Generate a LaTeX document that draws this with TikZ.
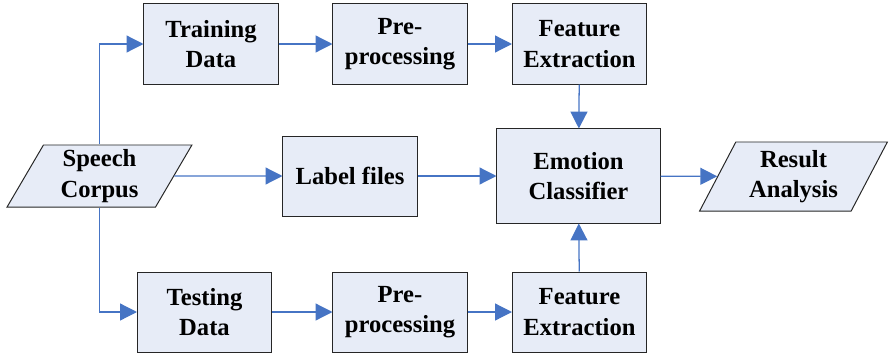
\documentclass[tikz,border=0pt]{standalone}
\usepackage{fontspec}
\setmainfont{Liberation Serif}
\usetikzlibrary{arrows.meta,shapes.geometric,positioning}

\definecolor{boxfill}{RGB}{231,236,247}
\definecolor{linkblue}{RGB}{70,116,196}

\begin{document}
\begin{tikzpicture}[
    x=0.025cm, y=-0.025cm,
    box/.style={draw=black!85, line width=0.7pt, fill=boxfill, minimum width=3.35cm, minimum height=2cm, align=center, inner sep=2pt, font=\fontsize{17.5}{21.5}\selectfont\bfseries},
    data/.style={box, trapezium, trapezium left angle=65, trapezium right angle=115, trapezium stretches=true},
    arr/.style={-{Triangle[length=12pt, width=12pt]}, linkblue, line width=0.9pt}
]
\useasboundingbox (0,0) rectangle (889,356);

\node[data, minimum width=4.625cm, minimum height=1.55cm] (corpus) at (99.5,176) {Speech\\Corpus};
\node[box] (train) at (211,44) {Training\\Data};
\node[box] (prep1) at (400,44) {Pre-\\processing};
\node[box] (feat1) at (579.5,44) {Feature\\Extraction};
\node[box] (label) at (350,176) {Label files};
\node[box, minimum width=4.075cm, minimum height=2.35cm] (emo) at (578.5,176) {Emotion\\Classifier};
\node[data, trapezium left angle=63, trapezium right angle=117, minimum width=4.7cm, minimum height=1.725cm] (result) at (793.5,176.5) {Result\\Analysis};
\node[box] (test) at (204.5,312) {Testing\\Data};
\node[box] (prep2) at (400,312) {Pre-\\processing};
\node[box] (feat2) at (579.5,312) {Feature\\Extraction};

\draw[arr] (corpus.north) |- (train);
\draw[arr] (corpus.south) |- (test);
\draw[arr] (corpus) -- (label);
\draw[arr] (train) -- (prep1);
\draw[arr] (prep1) -- (feat1);
\draw[arr] (test) -- (prep2);
\draw[arr] (prep2) -- (feat2);
\draw[arr] (label) -- (emo);
\draw[arr] (feat1) -- (emo);
\draw[arr] (feat2) -- (emo);
\draw[arr] (emo) -- (result);
\end{tikzpicture}
\end{document}
